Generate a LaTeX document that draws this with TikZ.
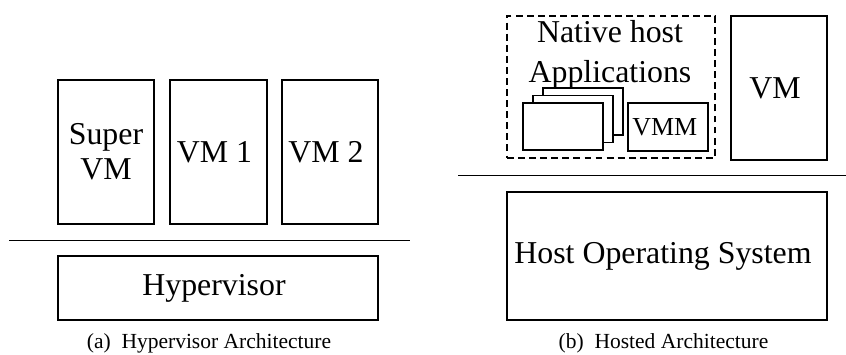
\documentclass[tikz,border=0pt]{standalone}
\usepackage{fontspec}
\setmainfont{Liberation Serif}
\tikzset{
	box/.style={shape=rectangle, draw, line width=1.4pt, align=center, inner sep=0pt,
		font=\fontsize{30.2}{33}\selectfont},
	appbox/.style={box, fill=white, minimum width=2.667cm, minimum height=1.567cm},
	caption/.style={font=\fontsize{20.4}{24}\selectfont, inner sep=0pt}
}
\begin{document}
\begin{tikzpicture}
			\useasboundingbox (0,0) rectangle (28.2,11.8);

			% (a) hypervisor
			\node (supervm)[box, minimum width=3.2cm, minimum height=4.8cm] 
			at (3.533,6.733){
				Super\\VM
			}; 
			
			\node (vm1)[box, minimum width=3.233cm, minimum height=4.8cm] 
			at (7.283,6.733){
				VM 1
			}; 
			
			\node (vm2)[box, minimum width=3.2cm, minimum height=4.8cm] 
			at (11,6.733){
				VM 2
			}; 
			
			\coordinate (sepa1) at (0.3,3.783);
			\coordinate (sepa2) at (13.667,3.783);
			
			\node (hyper)[box, minimum width=10.667cm, minimum height=2.133cm] 
			at (7.267,2.2){
				Hypervisor
			}; 
			
			\node (capa)[caption] at (6.967,0.36){(a)~~Hypervisor Architecture};
			
			% (b) hosted
			\node (native)[box, dash pattern=on 6.5pt off 4pt, minimum width=6.933cm, minimum height=4.733cm] 
			at (20.367,8.9){}; 
			
			\node (nativetxt)[font=\fontsize{30.2}{38}\selectfont, align=center, inner sep=0pt] 
			at (20.333,9.98){
				Native host\\Applications
			}; 
			
			\node (app3)[appbox] at (19.433,8.083){};
			\node (app2)[appbox] at (19.1,7.833){};
			\node (app1)[appbox] at (18.767,7.583){};
			
			\node (vmm)[box, font=\fontsize{24.6}{28}\selectfont, minimum width=2.667cm, minimum height=1.6cm] 
			at (22.267,7.567){
				VMM
			}; 
			
			\node (vm)[box, minimum width=3.2cm, minimum height=4.8cm] 
			at (25.967,8.867){
				VM
			}; 
			
			\coordinate (sepb1) at (15.267,5.95);
			\coordinate (sepb2) at (28.2,5.95);
			
			\node (hostos)[box, minimum width=10.667cm, minimum height=4.267cm] 
			at (22.233,3.267){
				Host Operating System
			}; 
			
			\node (capb)[caption] at (22.117,0.36){(b)~~Hosted Architecture};
			
			\draw[line width=1.4pt] (sepa1) -- (sepa2);
			\draw[line width=1.4pt] (sepb1) -- (sepb2);
		\end{tikzpicture}
\end{document}
